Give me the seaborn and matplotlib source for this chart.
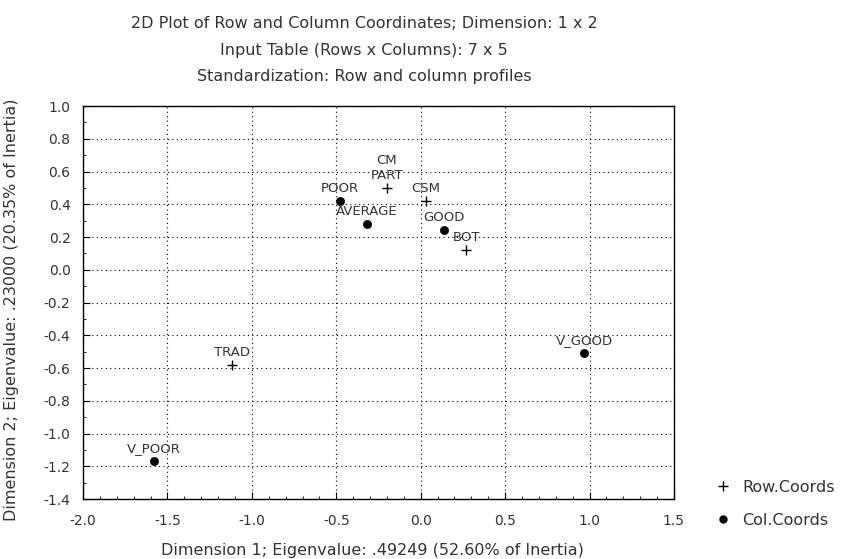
import matplotlib
matplotlib.use("Agg")
import matplotlib.pyplot as plt
from matplotlib.ticker import MultipleLocator
import seaborn as sns
import pandas as pd
from matplotlib.lines import Line2D

sns.set_style("white")
plt.rcParams['font.family'] = ['DejaVu Sans']

row_labels = ["CM\nPART", "CSM", "BOT", "TRAD"]
row_x = [-0.20, 0.03, 0.27, -1.12]
row_y = [0.50, 0.42, 0.12, -0.58]

col_labels = ["V_POOR", "POOR", "AVERAGE", "GOOD", "V_GOOD"]
col_x = [-1.58, -0.48, -0.32, 0.14, 0.97]
col_y = [-1.17, 0.42, 0.28, 0.24, -0.51]

x_ticks = [-2.0, -1.5, -1.0, -0.5, 0.0, 0.5, 1.0, 1.5]
y_ticks = [1.0, 0.8, 0.6, 0.4, 0.2, 0.0, -0.2, -0.4, -0.6, -0.8, -1.0, -1.2, -1.4]

title_lines = ["2D Plot of Row and Column Coordinates; Dimension: 1 x 2",
               "Input Table (Rows x Columns): 7 x 5",
               "Standardization: Row and column profiles"]
x_label = "Dimension 1; Eigenvalue: .49249 (52.60% of Inertia)"
y_label = "Dimension 2; Eigenvalue: .23000 (20.35% of Inertia)"
legend_labels = ["Row.Coords", "Col.Coords"]

rows = pd.DataFrame({"x": row_x, "y": row_y, "label": row_labels})
cols = pd.DataFrame({"x": col_x, "y": col_y, "label": col_labels})

txt = '#333333'
fig = plt.figure(figsize=(8.49, 5.59), dpi=100)
ax = fig.add_axes([0.0978, 0.1073, 0.696, 0.703])

sns.scatterplot(data=rows, x="x", y="y", marker="+", s=45, color="black",
                linewidth=1.0, ax=ax, zorder=3)
sns.scatterplot(data=cols, x="x", y="y", marker="o", s=35, color="black",
                edgecolor="black", ax=ax, zorder=3)

for df in (rows, cols):
    for _, r in df.iterrows():
        ax.annotate(r["label"], (r["x"], r["y"]), xytext=(0, 6.5),
                    textcoords="offset points", ha="center", va="baseline",
                    fontsize=9.5, color=txt, linespacing=1.15)

ax.set_xlim(-2.0, 1.5)
ax.set_ylim(-1.4, 1.0)
ax.set_xticks(x_ticks)
ax.set_yticks(y_ticks)
ax.xaxis.set_minor_locator(MultipleLocator(0.1))
ax.yaxis.set_minor_locator(MultipleLocator(0.1))
ax.set_xticklabels([f"{v:.1f}" for v in x_ticks], fontsize=10, color=txt)
ax.set_yticklabels([f"{v:.1f}" for v in y_ticks], fontsize=10, color=txt)
ax.tick_params(which="both", bottom=True, left=True, top=False, right=False)
ax.tick_params(which="major", direction="in", length=5, width=0.8,
               colors="black", labelcolor=txt)
ax.tick_params(axis="y", which="major", pad=9)
ax.tick_params(axis="x", which="major", pad=11)
ax.tick_params(which="minor", direction="in", length=2.5, width=0.6,
               colors="black")
ax.grid(True, which="major", color="black", linestyle=(0, (1, 3)),
        linewidth=0.8)
for s in ax.spines.values():
    s.set_color("black")
    s.set_linewidth(1.0)
    s.set_visible(True)
ax.set_xlabel("")
ax.set_ylabel("")

for i, line in enumerate(title_lines):
    fig.text(0.429, 1 - (23 + 27 * i) / 559, line, ha="center", va="center",
             fontsize=11.5, color=txt)
fig.text(0.439, 1 - 550 / 559, x_label, ha="center", va="center",
         fontsize=11.5, color=txt)
fig.text(0.013, 1 - 310 / 559, y_label, ha="center", va="center",
         rotation=90, fontsize=11.5, color=txt)

handles = [Line2D([], [], marker="+", color="black", linestyle="none",
                  markersize=7, markeredgewidth=1.0),
           Line2D([], [], marker="o", color="black", linestyle="none",
                  markersize=5)]
fig.legend(handles, legend_labels, loc="upper left",
           bbox_to_anchor=(0.842, 1 - 480 / 559), frameon=False, fontsize=11.5,
           labelcolor=txt, handlelength=1.0, handletextpad=0.7,
           labelspacing=1.1, borderpad=0, borderaxespad=0)

fig.savefig("out.png", dpi=100)
